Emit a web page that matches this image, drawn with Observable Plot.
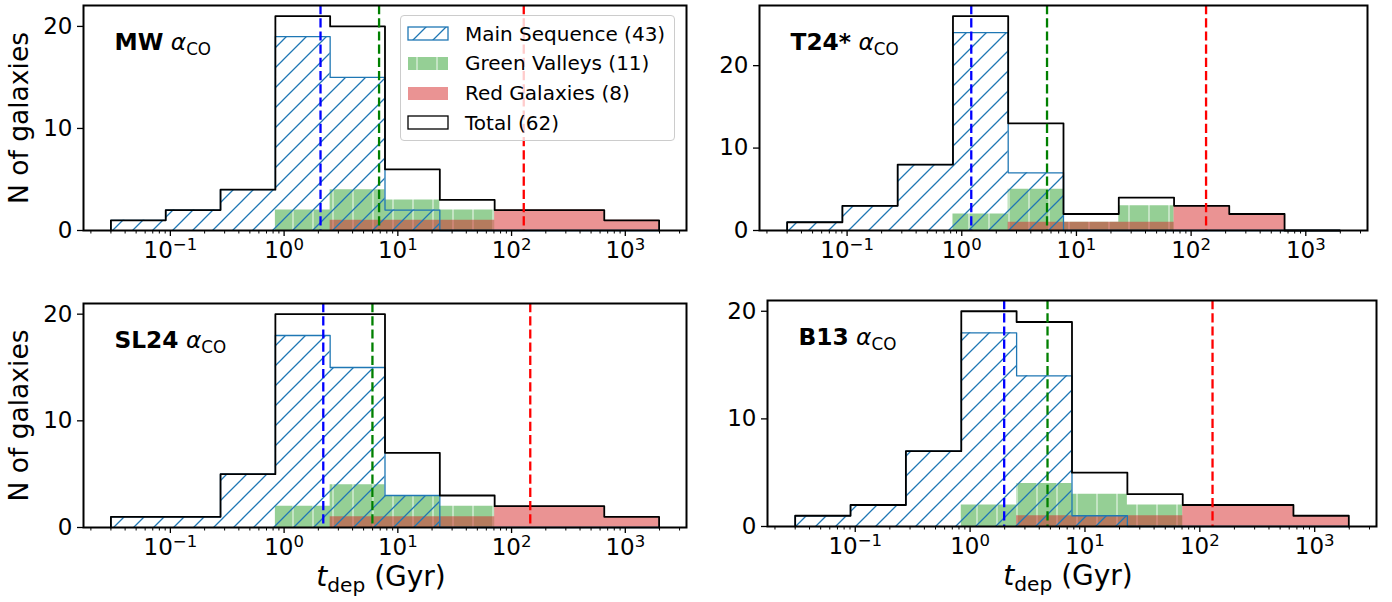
<!DOCTYPE html>
<html>
<head>
<meta charset="utf-8">
<script src="https://cdn.jsdelivr.net/npm/d3@7"></script>
<script src="https://cdn.jsdelivr.net/npm/@observablehq/plot@0.6"></script>
<style>
  body { margin: 0; background: white; }
  #wrap { position: relative; width: 1392px; height: 602px; overflow: hidden; font-family: "DejaVu Sans", sans-serif; background: white; }
  .panel { position: absolute; }
  .legend { position: absolute; box-sizing: border-box; border: 1px solid #cccccc; border-radius: 4px; background: rgba(255,255,255,0.8); font-family: "DejaVu Sans", sans-serif; font-size: 20px; color: black; }
  .legend svg { position: absolute; left: 6px; }
  .legend span { position: absolute; left: 64px; white-space: nowrap; line-height: 1; }
</style>
</head>
<body>
<div id="wrap"></div>
<script>
// ---------- data ----------
// shared log-spaced bin edges of t_dep (Gyr)
const binEdges = [0.030, 0.091, 0.276, 0.838, 2.54, 7.71, 23.4, 71.0, 215, 653, 1982];

// MW alpha_CO
const msMW  = [1, 2, 4, 19, 15, 2, 0, 0, 0, 0];
const gvMW  = [0, 0, 0, 2, 4, 3, 2, 0, 0, 0];
const redMW = [0, 0, 0, 0, 1, 1, 1, 2, 2, 1];
const totMW = [1, 2, 4, 21, 20, 6, 3, 2, 2, 1];
const medMW = [2.09, 6.84, 128];

// T24* alpha_CO
const msT24  = [1, 3, 8, 24, 7, 0, 0, 0, 0, 0];
const gvT24  = [0, 0, 0, 2, 5, 1, 3, 0, 0, 0];
const redT24 = [0, 0, 0, 0, 1, 1, 1, 3, 2, 0];
const totT24 = [1, 3, 8, 26, 13, 2, 4, 3, 2, 0];
const medT24 = [1.21, 5.54, 135];

// SL24 alpha_CO
const msSL24  = [1, 1, 5, 18, 15, 3, 0, 0, 0, 0];
const gvSL24  = [0, 0, 0, 2, 4, 3, 2, 0, 0, 0];
const redSL24 = [0, 0, 0, 0, 1, 1, 1, 2, 2, 1];
const totSL24 = [1, 1, 5, 20, 20, 7, 3, 2, 2, 1];
const medSL24 = [2.21, 5.98, 146];

// B13 alpha_CO
const msB13  = [1, 2, 7, 18, 14, 1, 0, 0, 0, 0];
const gvB13  = [0, 0, 0, 2, 4, 3, 2, 0, 0, 0];
const redB13 = [0, 0, 0, 0, 1, 1, 1, 2, 2, 1];
const totB13 = [1, 2, 7, 20, 19, 5, 3, 2, 2, 1];
const medB13 = [1.98, 4.72, 129];

const legendLabels = ["Main Sequence (43)", "Green Valleys (11)", "Red Galaxies (8)", "Total (62)"];
const yTicks = [0, 10, 20];
const xMajor = [0.1, 1, 10, 100, 1000];

// ---------- styles ----------
const C_MS = "#1f77b4", C_GV = "#2ca02c", C_RED = "#d62728";
const medColors = ["#0000ff", "#008000", "#ff0000"];
const TICK_FS = 23, YLABEL_FS = 26.5, XLABEL_FS = 28, PLABEL_FS = 23.3;

const wrap = document.getElementById("wrap");
wrap.insertAdjacentHTML("beforeend", `
<svg width="0" height="0" style="position:absolute;left:0;top:0">
  <defs>
    <pattern id="msHatch" patternUnits="userSpaceOnUse" width="20" height="20">
      <path d="M-5,5 L5,-5 M0,20 L20,0 M15,25 L25,15" stroke="${C_MS}" stroke-width="1.3" fill="none"/>
    </pattern>
    <pattern id="gvHatch" patternUnits="userSpaceOnUse" width="20" height="20">
      <rect width="20" height="20" fill="rgba(44,160,44,0.5)"/>
      <line x1="10" y1="0" x2="10" y2="20" stroke="rgba(255,255,255,0.55)" stroke-width="1.6"/>
    </pattern>
  </defs>
</svg>`);

// minor log ticks
const xMinor = [];
for (let k = -2; k <= 3; k++) for (let m = 2; m <= 9; m++) xMinor.push(m * Math.pow(10, k));

const lo = Math.log10(binEdges[0]), hi = Math.log10(binEdges[binEdges.length - 1]);
const pad = 0.05 * (hi - lo);
const xDomain = [Math.pow(10, lo - pad), Math.pow(10, hi + pad)];

const n = binEdges.length - 1;
function steps(counts) {
  const pts = counts.map((c, i) => ({x: binEdges[i], y: c}));
  pts.push({x: binEdges[n], y: counts[n - 1]});
  return pts;
}
function outline(counts) {
  return [{x: binEdges[0], y: 0}, ...steps(counts), {x: binEdges[n], y: 0}];
}

const panels = [
  {name: "MW",   ms: msMW,   gv: gvMW,   red: redMW,   tot: totMW,   med: medMW,   L: 83,  R: 686,  T: 5,   B: 230, yl: true,  xl: false, legend: true},
  {name: "T24*", ms: msT24,  gv: gvT24,  red: redT24,  tot: totT24,  med: medT24,  L: 759, R: 1367, T: 5,   B: 230, yl: false, xl: false},
  {name: "SL24", ms: msSL24, gv: gvSL24, red: redSL24, tot: totSL24, med: medSL24, L: 83,  R: 686,  T: 303, B: 527, yl: true,  xl: true},
  {name: "B13",  ms: msB13,  gv: gvB13,  red: redB13,  tot: totB13,  med: medB13,  L: 767, R: 1376, T: 300, B: 526, yl: false, xl: true}
];

for (const p of panels) {
  const mL = 80, mR = 16, mT = 5, mB = 74;
  const width = (p.R - p.L) + mL + mR;
  const height = (p.B - p.T) + mT + mB;
  const yMax = d3.max(p.tot) * 1.05;

  const marks = [
    Plot.areaY(steps(p.gv), {x: "x", y: "y", curve: "step-after", fill: "url(#gvHatch)"}),
    Plot.areaY(steps(p.red), {x: "x", y: "y", curve: "step-after", fill: C_RED, fillOpacity: 0.5}),
    Plot.areaY(steps(p.ms), {x: "x", y: "y", curve: "step-after", fill: "url(#msHatch)"}),
    Plot.line(outline(p.ms), {x: "x", y: "y", curve: "step-after", stroke: C_MS, strokeWidth: 1.3}),
    Plot.line(outline(p.tot), {x: "x", y: "y", curve: "step-after", stroke: "black", strokeWidth: 1.8}),
    ...p.med.map((v, i) => Plot.ruleX([v], {stroke: medColors[i], strokeWidth: 2.3, strokeDasharray: "9.2,4"})),
    Plot.frame({stroke: "black", strokeWidth: 2}),
    Plot.axisX({ticks: xMinor.filter(v => v >= xDomain[0] && v <= xDomain[1]), tickSize: 3.5, tickFormat: () => "", label: null, strokeWidth: 1}),
    Plot.axisX({ticks: xMajor, tickSize: 6, tickPadding: 5, strokeWidth: 1.3, fontSize: TICK_FS,
      tickFormat: d => "10^" + Math.round(Math.log10(d)),
      label: p.xl ? "t_dep (Gyr)" : null, labelAnchor: "center", labelOffset: 58, labelArrow: "none"}),
    Plot.axisY({ticks: yTicks, tickSize: 6, tickPadding: 5, strokeWidth: 1.3, fontSize: TICK_FS,
      label: p.yl ? "N of galaxies" : null, labelAnchor: "center", labelOffset: 74, labelArrow: "none"}),
    Plot.text([p.name], {frameAnchor: "top-left", dx: 31, dy: 44, textAnchor: "start", lineAnchor: "bottom", fontSize: PLABEL_FS, className: "plabel"})
  ];

  const svg = Plot.plot({
    width, height,
    marginLeft: mL, marginRight: mR, marginTop: mT, marginBottom: mB,
    style: {background: "transparent", overflow: "visible", fontFamily: "DejaVu Sans", fontSize: TICK_FS + "px", color: "black"},
    x: {type: "log", domain: xDomain},
    y: {domain: [0, yMax]},
    marks
  });

  // rich text: tick labels as powers of ten
  svg.querySelectorAll('g[aria-label="x-axis tick label"] text').forEach(t => {
    const s = t.textContent;
    if (s.startsWith("10^")) {
      const e = s.slice(3).replace("-", "\u2212");
      t.innerHTML = `10<tspan dy="-0.45em" font-size="0.72em">${e}</tspan>`;
    }
  });
  // panel label with alpha_CO
  svg.querySelectorAll('.plabel text').forEach(t => {
    const nm = t.textContent;
    t.innerHTML = `<tspan font-weight="bold">${nm}</tspan> <tspan font-style="italic">\u03b1</tspan><tspan font-size="0.72em" dy="0.3em">CO</tspan>`;
  });
  // axis labels: larger font, x label with subscript
  svg.querySelectorAll('g[aria-label="x-axis label"] text').forEach(t => {
    t.setAttribute("font-size", XLABEL_FS);
    t.setAttribute("dx", -4);
    t.innerHTML = `<tspan font-style="italic">t</tspan><tspan font-size="0.72em" dy="0.3em">dep</tspan><tspan dy="-0.216em"> (Gyr)</tspan>`;
  });
  svg.querySelectorAll('g[aria-label="y-axis label"] text').forEach(t => {
    t.setAttribute("font-size", YLABEL_FS);
  });

  const div = document.createElement("div");
  div.className = "panel";
  div.style.left = (p.L - mL) + "px";
  div.style.top = (p.T - mT) + "px";
  div.appendChild(svg);
  wrap.appendChild(div);

  if (p.legend) {
    const lg = document.createElement("div");
    lg.className = "legend";
    lg.style.left = (p.L + 317) + "px";
    lg.style.top = (p.T + 10) + "px";
    lg.style.width = "275px";
    lg.style.height = "126px";
    const swatches = [
      `<rect x="1" y="1" width="40" height="13" fill="url(#msHatch)" stroke="${C_MS}" stroke-width="1.3"/>`,
      `<rect x="1" y="1" width="40" height="13" fill="url(#gvHatch)"/>`,
      `<rect x="1" y="1" width="40" height="13" fill="${C_RED}" fill-opacity="0.5"/>`,
      `<rect x="1" y="1" width="40" height="13" fill="none" stroke="black" stroke-width="1.3"/>`
    ];
    const rowCenters = [17.5, 47, 77, 106.5];
    let html = "";
    legendLabels.forEach((lab, i) => {
      const cy = rowCenters[i];
      html += `<svg width="42" height="15" style="top:${cy - 7.5}px">${swatches[i]}</svg>`;
      html += `<span style="top:${cy - 10}px">${lab}</span>`;
    });
    lg.innerHTML = html;
    wrap.appendChild(lg);
  }
}
</script>
</body>
</html>
